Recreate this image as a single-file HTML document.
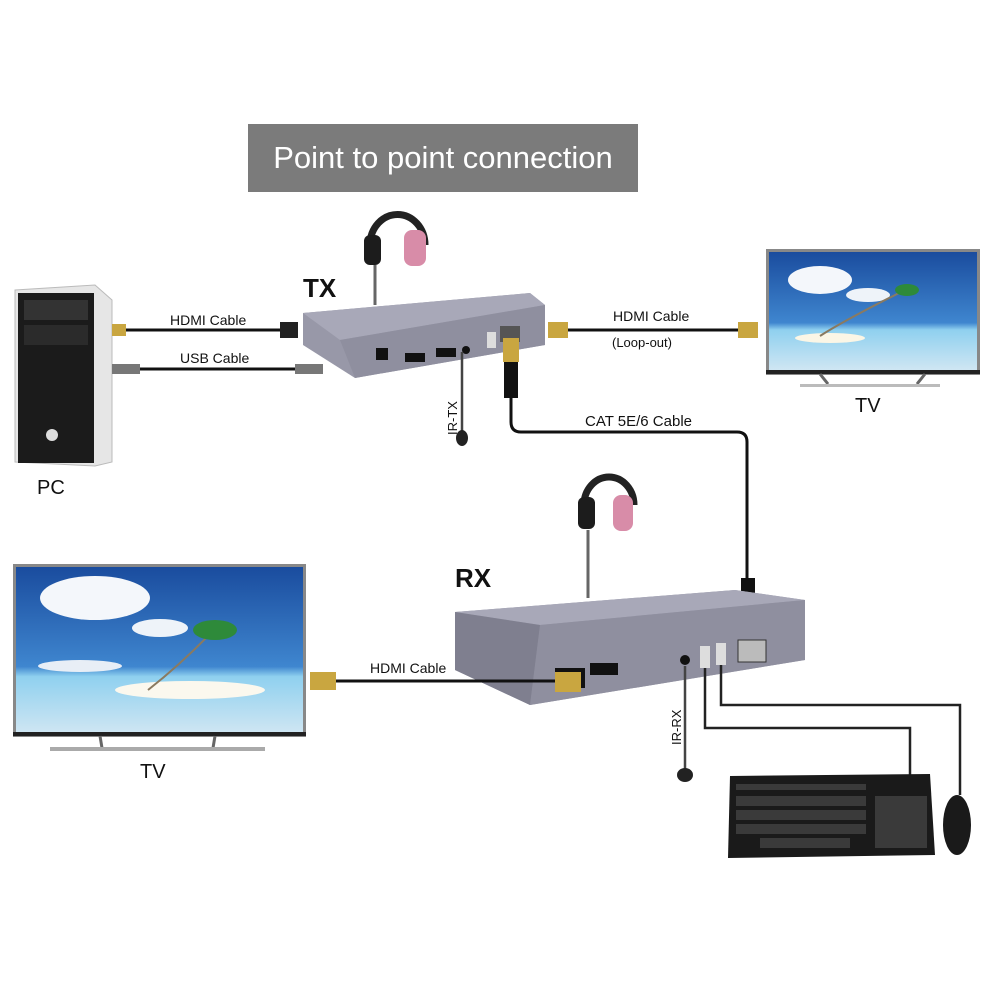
<!DOCTYPE html>
<html><head><meta charset="utf-8"><style>
html,body{margin:0;padding:0;background:#fff;width:1000px;height:1000px;overflow:hidden}
svg{display:block}
text{font-family:"Liberation Sans",sans-serif}
</style></head><body>
<svg width="1000" height="1000" viewBox="0 0 1000 1000" xmlns="http://www.w3.org/2000/svg">
<defs>
<linearGradient id="sky" x1="0" y1="0" x2="0" y2="1">
<stop offset="0" stop-color="#1a4c9e"/><stop offset="0.6" stop-color="#3f86cf"/><stop offset="0.66" stop-color="#8fd0ef"/><stop offset="1" stop-color="#cfe6f3"/>
</linearGradient>
</defs>

<!-- Title -->
<rect x="248" y="124" width="390" height="68" fill="#7b7b7b"/>
<text x="443" y="168" font-size="31" fill="#fff" text-anchor="middle">Point to point connection</text>

<!-- PC tower -->
<polygon points="15,290 95,285 112,300 112,462 95,466 15,462" fill="#e6e6e6" stroke="#bbb"/>
<rect x="18" y="293" width="76" height="170" fill="#1b1b1b"/>
<rect x="24" y="300" width="64" height="20" fill="#333"/>
<rect x="24" y="325" width="64" height="20" fill="#2b2b2b"/>
<circle cx="52" cy="435" r="6" fill="#ddd"/>
<text x="37" y="494" font-size="20" fill="#111">PC</text>

<!-- PC cables -->
<rect x="112" y="324" width="14" height="12" fill="#c9a640"/>
<line x1="126" y1="330" x2="285" y2="330" stroke="#111" stroke-width="3"/>
<rect x="280" y="322" width="18" height="16" fill="#222"/>
<text x="170" y="325" font-size="14" fill="#111">HDMI Cable</text>
<rect x="112" y="364" width="28" height="10" fill="#777"/>
<line x1="140" y1="369" x2="295" y2="369" stroke="#111" stroke-width="3"/>
<rect x="295" y="364" width="28" height="10" fill="#777"/>
<text x="180" y="363" font-size="14" fill="#111">USB Cable</text>

<!-- TX -->
<text x="303" y="297" font-size="26" font-weight="bold" fill="#111">TX</text>
<path d="M370,245 A27,30 0 0 1 425,245" fill="none" stroke="#222" stroke-width="7"/>
<rect x="364" y="235" width="17" height="30" rx="6" fill="#1c1c1c"/>
<rect x="404" y="230" width="22" height="36" rx="8" fill="#d88ca8"/>
<line x1="375" y1="265" x2="375" y2="305" stroke="#666" stroke-width="3"/>
<polygon points="303,313 530,293 545,305 545,345 355,378 303,345" fill="#9898a8"/>
<polygon points="303,313 530,293 545,305 340,340" fill="#a8a8b8"/>
<polygon points="340,340 545,305 545,345 355,378" fill="#8f8f9f"/>
<rect x="376" y="348" width="12" height="12" fill="#111"/>
<rect x="405" y="353" width="20" height="9" fill="#111"/>
<rect x="436" y="348" width="20" height="9" fill="#111"/>
<circle cx="466" cy="350" r="4" fill="#111"/>
<rect x="487" y="332" width="9" height="16" fill="#ddd"/>
<rect x="500" y="326" width="20" height="16" fill="#555"/>
<line x1="462" y1="352" x2="462" y2="432" stroke="#444" stroke-width="2.5"/>
<ellipse cx="462" cy="438" rx="6" ry="8" fill="#222"/>
<text transform="translate(457,435) rotate(-90)" font-size="13" fill="#111">IR-TX</text>

<!-- CAT cable -->
<rect x="503" y="338" width="16" height="24" fill="#c9a640"/>
<rect x="504" y="362" width="14" height="36" fill="#111"/>
<path d="M511,398 L511,422 Q511,432 521,432 L737,432 Q747,432 747,442 L747,582" fill="none" stroke="#111" stroke-width="3"/>
<text x="585" y="426" font-size="15" fill="#111">CAT 5E/6 Cable</text>
<rect x="741" y="578" width="14" height="40" fill="#111"/>

<!-- Right HDMI loopout -->
<rect x="548" y="322" width="20" height="16" fill="#c9a640"/>
<line x1="568" y1="330" x2="738" y2="330" stroke="#111" stroke-width="3"/>
<rect x="738" y="322" width="20" height="16" fill="#c9a640"/>
<text x="613" y="321" font-size="14" fill="#111">HDMI Cable</text>
<text x="612" y="347" font-size="13" fill="#111">(Loop-out)</text>

<!-- Right TV -->
<rect x="766" y="249" width="214" height="126" fill="#888"/>
<rect x="769" y="252" width="208" height="118" fill="url(#sky)"/>
<rect x="766" y="370" width="214" height="4" fill="#222"/>
<ellipse cx="820" cy="280" rx="32" ry="14" fill="#f4f7fb"/>
<ellipse cx="868" cy="295" rx="22" ry="7" fill="#eef3f9"/>
<ellipse cx="830" cy="338" rx="35" ry="5" fill="#fbf6e6"/>
<path d="M820,336 Q845,320 905,290" fill="none" stroke="#8a7a60" stroke-width="2"/>
<ellipse cx="907" cy="290" rx="12" ry="6" fill="#2e8a3a"/>
<line x1="820" y1="374" x2="828" y2="384" stroke="#666" stroke-width="3"/>
<line x1="925" y1="374" x2="917" y2="384" stroke="#666" stroke-width="3"/>
<rect x="800" y="384" width="140" height="3" fill="#bbb"/>
<text x="855" y="412" font-size="20" fill="#111">TV</text>

<!-- RX -->
<text x="455" y="587" font-size="26" font-weight="bold" fill="#111">RX</text>
<path d="M584,505 A25,28 0 0 1 634,505" fill="none" stroke="#222" stroke-width="7"/>
<rect x="578" y="497" width="17" height="32" rx="6" fill="#1c1c1c"/>
<rect x="613" y="495" width="20" height="36" rx="8" fill="#d88ca8"/>
<line x1="588" y1="530" x2="588" y2="598" stroke="#666" stroke-width="3"/>
<polygon points="455,612 735,590 805,600 805,660 530,705 455,670" fill="#9898a8"/>
<polygon points="455,612 735,590 805,600 540,625" fill="#a8a8b8"/>
<polygon points="540,625 805,600 805,660 530,705" fill="#8f8f9f"/>
<polygon points="455,612 540,625 530,705 455,670" fill="#7f7f8f"/>
<rect x="555" y="668" width="30" height="20" fill="#111"/>
<rect x="590" y="663" width="28" height="12" fill="#111"/>
<circle cx="685" cy="660" r="5" fill="#111"/>
<rect x="700" y="646" width="10" height="22" fill="#ddd"/>
<rect x="716" y="643" width="10" height="22" fill="#ddd"/>
<rect x="738" y="640" width="28" height="22" fill="#bbb" stroke="#333"/>
<line x1="685" y1="666" x2="685" y2="770" stroke="#444" stroke-width="2.5"/>
<ellipse cx="685" cy="775" rx="8" ry="7" fill="#222"/>
<text transform="translate(681,745) rotate(-90)" font-size="13" fill="#111">IR-RX</text>
<path d="M705,668 L705,728 L910,728 L910,778" fill="none" stroke="#222" stroke-width="2.5"/>
<path d="M721,665 L721,705 L960,705 L960,795" fill="none" stroke="#222" stroke-width="2.5"/>

<!-- Left HDMI -->
<rect x="310" y="672" width="26" height="18" fill="#c9a640"/>
<line x1="336" y1="681" x2="555" y2="681" stroke="#111" stroke-width="3"/>
<rect x="555" y="672" width="26" height="20" fill="#c9a640"/>
<text x="370" y="673" font-size="14" fill="#111">HDMI Cable</text>

<!-- Left TV -->
<rect x="13" y="564" width="293" height="173" fill="#888"/>
<rect x="16" y="567" width="287" height="166" fill="url(#sky)"/>
<rect x="13" y="732" width="293" height="4" fill="#222"/>
<ellipse cx="95" cy="598" rx="55" ry="22" fill="#f4f7fb"/>
<ellipse cx="160" cy="628" rx="28" ry="9" fill="#eef3f9"/>
<ellipse cx="80" cy="666" rx="42" ry="6" fill="#e8eef6"/>
<ellipse cx="190" cy="690" rx="75" ry="9" fill="#fbf8ee"/>
<path d="M148,690 Q180,665 212,632" fill="none" stroke="#8a7a60" stroke-width="2"/>
<ellipse cx="215" cy="630" rx="22" ry="10" fill="#2e8a3a"/>
<line x1="100" y1="736" x2="102" y2="748" stroke="#666" stroke-width="3"/>
<line x1="215" y1="736" x2="213" y2="748" stroke="#666" stroke-width="3"/>
<rect x="50" y="747" width="215" height="4" fill="#aaa"/>
<text x="140" y="778" font-size="20" fill="#111">TV</text>

<!-- Keyboard -->
<polygon points="730,776 930,774 935,855 728,858" fill="#1a1a1a"/>
<g fill="#3a3a3a">
<rect x="736" y="784" width="130" height="6"/>
<rect x="736" y="796" width="130" height="10"/>
<rect x="736" y="810" width="130" height="10"/>
<rect x="736" y="824" width="130" height="10"/>
<rect x="760" y="838" width="90" height="10"/>
<rect x="875" y="796" width="52" height="52"/>
</g>
<ellipse cx="957" cy="825" rx="14" ry="30" fill="#1a1a1a"/>
</svg>
</body></html>
